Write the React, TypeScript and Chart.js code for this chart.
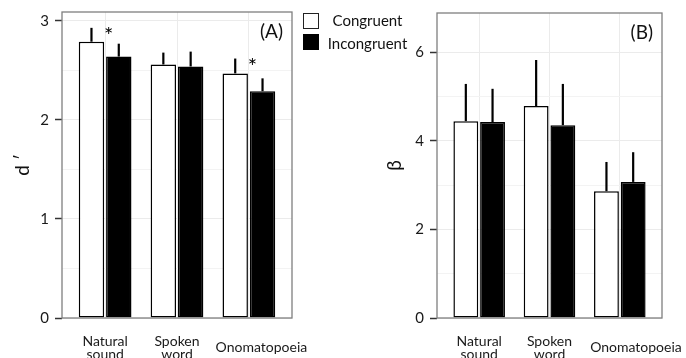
import { useEffect, useRef } from 'react';
import { Chart, registerables } from 'chart.js';

Chart.register(...registerables);

const FONT = 'Lato, "Open Sans", sans-serif';

// ---- data ----
const categories = ['Natural sound', 'Spoken word', 'Onomatopoeia'];
const xTickLabels: (string | string[])[] = [['Natural', 'sound'], ['Spoken', 'word'], 'Onomatopoeia'];
const seriesNames = ['Congruent', 'Incongruent'];

// Panel A: d'
const dCongruent = [2.79, 2.56, 2.47];
const dIncongruent = [2.64, 2.54, 2.29];
const dCongruentUpper = [2.93, 2.68, 2.62];
const dIncongruentUpper = [2.77, 2.69, 2.42];
const dSignificance = ['*', '', '*'];

// Panel B: beta
const bCongruent = [4.44, 4.78, 2.86];
const bIncongruent = [4.42, 4.35, 3.07];
const bCongruentUpper = [5.28, 5.82, 3.52];
const bIncongruentUpper = [5.17, 5.28, 3.74];
const bSignificance = ['', '', ''];

type Panel = {
  cong: number[];
  incong: number[];
  congUp: number[];
  incongUp: number[];
  stars: string[];
  yMax: number;
  step: number;
  majorEvery: number;
  title: string;
  titleCenter: number;
  panelLabel: string;
  yWidth: number;
  labelShift: number[];
  padding: { left: number; right: number; top: number; bottom: number };
};

const X_FONT_SIZE = 14;
const isMultiple = (v: number, m: number) => Math.abs(v / m - Math.round(v / m)) < 1e-6;

let measureCtx: CanvasRenderingContext2D | null = null;
function spaceWidth(): number {
  if (!measureCtx) measureCtx = document.createElement('canvas').getContext('2d');
  if (!measureCtx) return 3.5;
  measureCtx.font = `${X_FONT_SIZE}px ${FONT}`;
  return measureCtx.measureText('          ').width / 10 || 3.5;
}

function shifted(label: string | string[], shift: number): string | string[] {
  if (!shift || Array.isArray(label)) return label;
  const n = Math.max(0, Math.round((2 * shift) / spaceWidth()));
  return ' '.repeat(n) + label;
}

function decor(p: Panel) {
  return {
    id: 'panelDecor',
    afterDatasetsDraw(chart: any) {
      const { ctx, chartArea: a, scales } = chart;
      const x = scales.x;
      const y = scales.y;
      ctx.save();
      ctx.strokeStyle = '#000';
      ctx.lineWidth = 2.2;
      [p.congUp, p.incongUp].forEach((ups, di) => {
        chart.getDatasetMeta(di).data.forEach((bar: any, i: number) => {
          ctx.beginPath();
          ctx.moveTo(bar.x, bar.y);
          ctx.lineTo(bar.x, y.getPixelForValue(ups[i]));
          ctx.stroke();
        });
      });
      ctx.fillStyle = '#000';
      ctx.font = `22px ${FONT}`;
      ctx.textAlign = 'center';
      ctx.textBaseline = 'alphabetic';
      p.stars.forEach((s, i) => {
        if (!s) return;
        ctx.fillText(s, x.getPixelForValue(i + 1) + 3.5, y.getPixelForValue(p.congUp[i]) + 15);
      });
      ctx.strokeStyle = '#7f7f7f';
      ctx.lineWidth = 1.3;
      ctx.strokeRect(a.left, a.top, a.right - a.left, a.bottom - a.top);
      ctx.fillStyle = '#111';
      ctx.font = `19px ${FONT}`;
      ctx.textAlign = 'right';
      ctx.textBaseline = 'middle';
      ctx.fillText(p.panelLabel, a.right - 9, a.top + 20);
      ctx.restore();
    },
  };
}

function buildConfig(p: Panel): any {
  const common = {
    categoryPercentage: 0.76,
    barPercentage: 0.93,
    borderColor: '#000',
    borderWidth: 1.5,
    borderSkipped: false,
  };
  return {
    type: 'bar',
    data: {
      datasets: [
        { ...common, label: seriesNames[0], backgroundColor: '#fff', data: p.cong.map((v, i) => ({ x: i + 1, y: v })) },
        { ...common, label: seriesNames[1], backgroundColor: '#000', data: p.incong.map((v, i) => ({ x: i + 1, y: v })) },
      ],
    },
    options: {
      animation: false,
      responsive: false,
      maintainAspectRatio: false,
      layout: { padding: p.padding },
      plugins: { legend: { display: false }, tooltip: { enabled: false } },
      scales: {
        x: {
          type: 'linear',
          offset: false,
          min: 0.4,
          max: 3.6,
          afterBuildTicks: (s: any) => {
            s.ticks = categories.map((_, i) => ({ value: i + 1 }));
          },
          afterFit: (s: any) => {
            s.height = 40;
            s.paddingLeft = 0;
            s.paddingRight = 0;
          },
          ticks: {
            autoSkip: false,
            maxRotation: 0,
            minRotation: 0,
            crossAlign: 'center',
            padding: 23,
            color: '#1a1a1a',
            font: { family: FONT, size: X_FONT_SIZE, lineHeight: 0.95 },
            callback: (v: number) => {
              const i = Math.round(v) - 1;
              return shifted(xTickLabels[i], p.labelShift[i]);
            },
          },
          grid: { color: '#ebebeb', lineWidth: 1, drawTicks: false, offset: false },
          border: { display: false },
        },
        y: {
          min: 0,
          max: p.yMax,
          afterFit: (s: any) => {
            s.width = p.yWidth;
            s.paddingTop = 0;
            s.paddingBottom = 0;
          },
          ticks: {
            stepSize: p.step,
            includeBounds: false,
            padding: 6,
            color: '#1a1a1a',
            font: { family: FONT, size: 15 },
            callback: (v: number) => (isMultiple(v, p.majorEvery) ? String(Math.round(v)) : ''),
          },
          grid: {
            color: (c: any) => (isMultiple(c.tick.value, p.majorEvery) ? '#ebebeb' : '#f3f3f3'),
            lineWidth: 1,
            tickLength: 7,
            tickWidth: 1.5,
            tickColor: (c: any) => (isMultiple(c.tick.value, p.majorEvery) ? '#333' : 'rgba(0,0,0,0)'),
          },
          border: { display: false },
          title: {
            display: true,
            text: p.title,
            color: '#111',
            font: { family: FONT, size: 19, lineHeight: 1.2 },
            padding: { top: p.titleCenter - 11.4, bottom: 0 },
          },
        },
      },
    },
    plugins: [decor(p)],
  };
}

const panelA: Panel = {
  cong: dCongruent,
  incong: dIncongruent,
  congUp: dCongruentUpper,
  incongUp: dIncongruentUpper,
  stars: dSignificance,
  yMax: 3.09,
  step: 0.5,
  majorEvery: 1,
  title: 'd ′',
  titleCenter: 23,
  panelLabel: '(A)',
  yWidth: 62,
  labelShift: [0, 0, 12],
  padding: { left: 0, right: 28, top: 12, bottom: 0 },
};

const panelB: Panel = {
  cong: bCongruent,
  incong: bIncongruent,
  congUp: bCongruentUpper,
  incongUp: bIncongruentUpper,
  stars: bSignificance,
  yMax: 6.88,
  step: 1,
  majorEvery: 2,
  title: 'β',
  titleCenter: 52,
  panelLabel: '(B)',
  yWidth: 94,
  labelShift: [0, 0, 16],
  padding: { left: 0, right: 24, top: 13, bottom: 0 },
};

function ChartCanvas({ panel, left, width }: { panel: Panel; left: number; width: number }) {
  const ref = useRef<HTMLCanvasElement | null>(null);
  useEffect(() => {
    if (!ref.current) return;
    const chart = new Chart(ref.current, buildConfig(panel));
    return () => chart.destroy();
  }, [panel]);
  return (
    <canvas
      ref={ref}
      width={width}
      height={358}
      style={{ position: 'absolute', left, top: 0, width, height: 358 }}
    />
  );
}

export default function App() {
  const text = { position: 'absolute' as const, left: 320, width: 95, textAlign: 'center' as const, font: `15px ${FONT}`, lineHeight: '18px', color: '#111' };
  return (
    <div style={{ position: 'fixed', left: 0, top: 0, width: 686, height: 358, background: '#fff', overflow: 'hidden' }}>
      <ChartCanvas panel={panelA} left={0} width={320} />
      <ChartCanvas panel={panelB} left={343} width={343} />
      <div style={{ position: 'absolute', left: 303, top: 13, width: 16, height: 16, boxSizing: 'border-box', border: '1.5px solid #222', background: '#fff' }} />
      <div style={{ position: 'absolute', left: 303, top: 34, width: 16, height: 16, background: '#000' }} />
      <div style={{ ...text, top: 11 }}>{seriesNames[0]}</div>
      <div style={{ ...text, top: 34 }}>{seriesNames[1]}</div>
    </div>
  );
}
